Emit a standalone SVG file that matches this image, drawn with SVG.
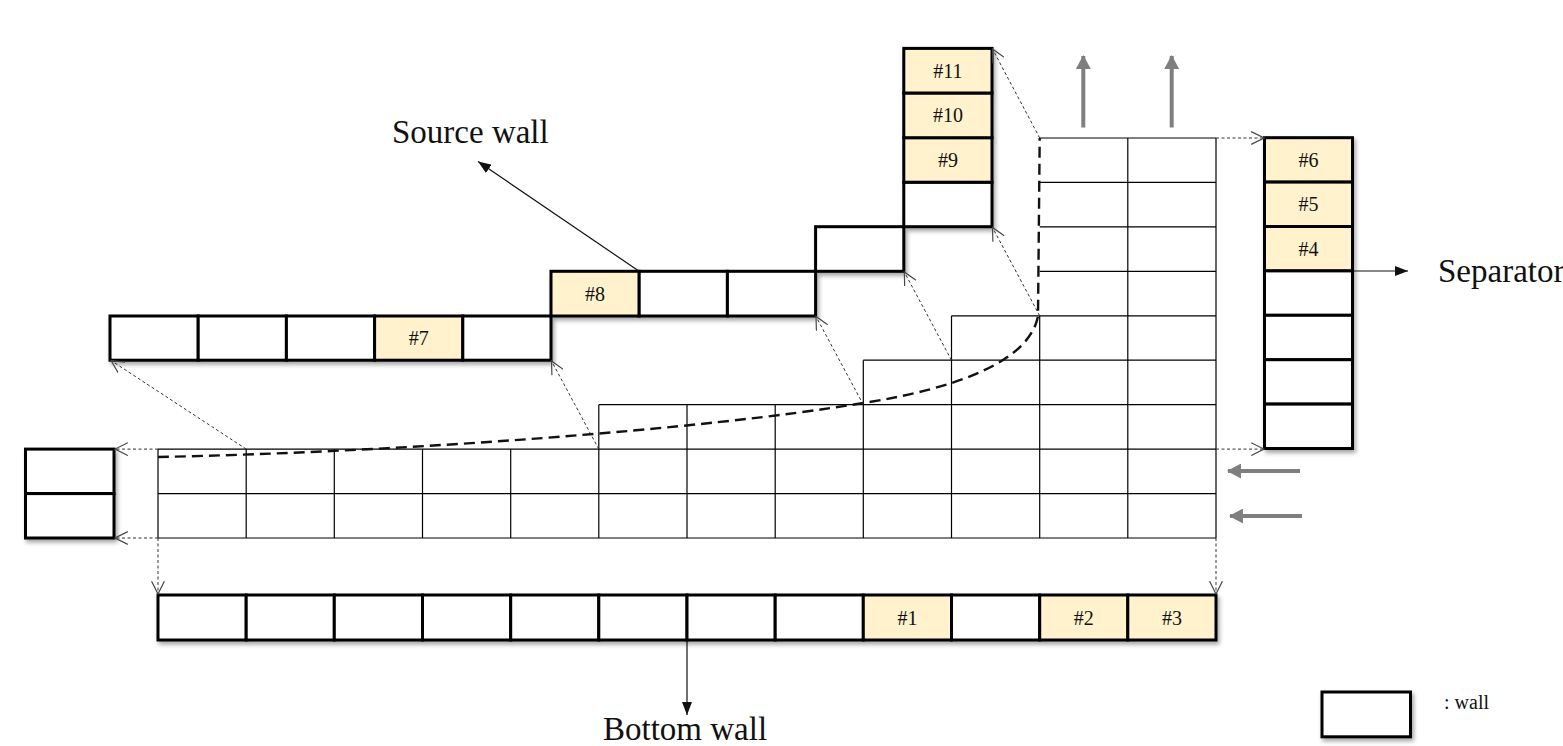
<svg xmlns="http://www.w3.org/2000/svg" width="1563" height="746" viewBox="0 0 1563 746">
  <defs>
    <style>
      .grid line { stroke: #000; stroke-width: 1.2; }
      .wall rect { fill: #fff; stroke: #000; stroke-width: 3; }
      .wall rect.hi { fill: #fff2cc; }
      .num { font-family: "Liberation Serif", "Times New Roman", serif; font-size: 20px; fill: #111; text-anchor: middle; }
      .big { font-family: "Liberation Serif", "Times New Roman", serif; font-size: 33px; fill: #111; }
      .dot { stroke: #333; stroke-width: 1; stroke-dasharray: 3 2.5; fill: none; marker-end: url(#open); }
      .ptr { stroke: #111; stroke-width: 1.2; fill: none; marker-end: url(#solid); }
      .flow { stroke: #7f7f7f; stroke-width: 4; fill: none; marker-end: url(#gray); }
    </style>
    <filter id="shadow" x="-10%" y="-10%" width="130%" height="140%">
      <feDropShadow dx="2" dy="3" stdDeviation="2.2" flood-color="#000" flood-opacity="0.35"/>
    </filter>
    <marker id="open" markerUnits="userSpaceOnUse" markerWidth="14" markerHeight="14" viewBox="0 0 12 12" refX="11" refY="6" orient="auto">
      <path d="M0,0.5 L11,6 L0,11.5" fill="none" stroke="#444" stroke-width="1"/>
    </marker>
    <marker id="solid" markerUnits="userSpaceOnUse" markerWidth="13" markerHeight="10" viewBox="0 0 13 10" refX="13" refY="5" orient="auto">
      <path d="M0,0 L13,5 L0,10 Z" fill="#111"/>
    </marker>
    <marker id="gray" markerUnits="userSpaceOnUse" markerWidth="14" markerHeight="15" viewBox="0 0 14 15" refX="13" refY="7.5" orient="auto">
      <path d="M0,0 L14,7.5 L0,15 Z" fill="#7f7f7f"/>
    </marker>
  </defs>

  <rect width="1563" height="746" fill="#fff"/>

  <!-- computational grid -->
  <g id="grid" class="grid">
    <line x1="1039.7" y1="138" x2="1216" y2="138"/>
    <line x1="1039.7" y1="182.4" x2="1216" y2="182.4"/>
    <line x1="1039.7" y1="226.9" x2="1216" y2="226.9"/>
    <line x1="1039.7" y1="271.3" x2="1216" y2="271.3"/>
    <line x1="951.5" y1="315.8" x2="1216" y2="315.8"/>
    <line x1="863.3" y1="360.2" x2="1216" y2="360.2"/>
    <line x1="598.8" y1="404.7" x2="1216" y2="404.7"/>
    <line x1="158" y1="449.1" x2="1216" y2="449.1"/>
    <line x1="158" y1="493.6" x2="1216" y2="493.6"/>
    <line x1="158" y1="538" x2="1216" y2="538"/>
    <line x1="158" y1="449.1" x2="158" y2="538"/>
    <line x1="246.2" y1="449.1" x2="246.2" y2="538"/>
    <line x1="334.3" y1="449.1" x2="334.3" y2="538"/>
    <line x1="422.5" y1="449.1" x2="422.5" y2="538"/>
    <line x1="510.7" y1="449.1" x2="510.7" y2="538"/>
    <line x1="598.8" y1="404.7" x2="598.8" y2="538"/>
    <line x1="687" y1="404.7" x2="687" y2="538"/>
    <line x1="775.2" y1="404.7" x2="775.2" y2="538"/>
    <line x1="863.3" y1="360.2" x2="863.3" y2="538"/>
    <line x1="951.5" y1="315.8" x2="951.5" y2="538"/>
    <line x1="1039.7" y1="315.8" x2="1039.7" y2="538"/>
    <line x1="1127.8" y1="138" x2="1127.8" y2="538"/>
    <line x1="1216" y1="138" x2="1216" y2="538"/>
  </g>

  <!-- boundary curve -->
  <path id="boundary" d="M158,457 C400,452 700,430 863.3,403 C960,388 1030,360 1038,316 L1039.7,138" fill="none" stroke="#111" stroke-width="2.4" stroke-dasharray="11 6"/>

  <!-- bottom wall -->
  <g id="bottom-wall" class="wall" filter="url(#shadow)">
    <rect x="158" y="595" width="88.2" height="45"/>
    <rect x="246.2" y="595" width="88.1" height="45"/>
    <rect x="334.3" y="595" width="88.2" height="45"/>
    <rect x="422.5" y="595" width="88.2" height="45"/>
    <rect x="510.7" y="595" width="88.1" height="45"/>
    <rect x="598.8" y="595" width="88.2" height="45"/>
    <rect x="687" y="595" width="88.2" height="45"/>
    <rect x="775.2" y="595" width="88.1" height="45"/>
    <rect class="hi" x="863.3" y="595" width="88.2" height="45"/>
    <rect x="951.5" y="595" width="88.2" height="45"/>
    <rect class="hi" x="1039.7" y="595" width="88.1" height="45"/>
    <rect class="hi" x="1127.8" y="595" width="88.2" height="45"/>
  </g>
  <g id="bottom-wall-labels">
    <text class="num" x="907.4" y="624.5">#1</text>
    <text class="num" x="1083.7" y="624.5">#2</text>
    <text class="num" x="1171.9" y="624.5">#3</text>
  </g>

  <!-- left wall -->
  <g id="left-wall" class="wall" filter="url(#shadow)">
    <rect x="25.5" y="449.1" width="88.5" height="44.5"/>
    <rect x="25.5" y="493.6" width="88.5" height="44.4"/>
  </g>

  <!-- source wall (stepped) -->
  <g id="source-wall" class="wall" filter="url(#shadow)">
    <rect x="110" y="316" width="88.2" height="44.2"/>
    <rect x="198.2" y="316" width="88.2" height="44.2"/>
    <rect x="286.4" y="316" width="88.2" height="44.2"/>
    <rect class="hi" x="374.6" y="316" width="88.2" height="44.2"/>
    <rect x="462.8" y="316" width="88.2" height="44.2"/>
    <rect class="hi" x="551" y="271.3" width="88.2" height="44.7"/>
    <rect x="639.2" y="271.3" width="88.2" height="44.7"/>
    <rect x="727.4" y="271.3" width="88.2" height="44.7"/>
    <rect x="815.6" y="226.7" width="88.2" height="44.6"/>
    <rect x="903.8" y="182.2" width="88.2" height="44.5"/>
    <rect class="hi" x="903.8" y="137.7" width="88.2" height="44.5"/>
    <rect class="hi" x="903.8" y="93" width="88.2" height="44.7"/>
    <rect class="hi" x="903.8" y="48.4" width="88.2" height="44.6"/>
  </g>
  <g id="source-wall-labels">
    <text class="num" x="418.7" y="345">#7</text>
    <text class="num" x="595.1" y="300.5">#8</text>
    <text class="num" x="947.9" y="167">#9</text>
    <text class="num" x="947.9" y="122.3">#10</text>
    <text class="num" x="947.9" y="77.7">#11</text>
  </g>

  <!-- separator -->
  <g id="separator" class="wall" filter="url(#shadow)">
    <rect class="hi" x="1264.5" y="137.7" width="88" height="44.4"/>
    <rect class="hi" x="1264.5" y="182.1" width="88" height="44.4"/>
    <rect class="hi" x="1264.5" y="226.5" width="88" height="44.4"/>
    <rect x="1264.5" y="270.9" width="88" height="44.4"/>
    <rect x="1264.5" y="315.3" width="88" height="44.4"/>
    <rect x="1264.5" y="359.7" width="88" height="44.4"/>
    <rect x="1264.5" y="404.1" width="88" height="44.4"/>
  </g>
  <g id="separator-labels">
    <text class="num" x="1308.5" y="167">#6</text>
    <text class="num" x="1308.5" y="211.4">#5</text>
    <text class="num" x="1308.5" y="255.8">#4</text>
  </g>

  <!-- legend -->
  <g id="legend">
    <g class="wall" filter="url(#shadow)">
      <rect x="1322" y="692" width="88.5" height="44.8"/>
    </g>
    <text x="1444" y="709" font-family="Liberation Serif, Times New Roman, serif" font-size="20" fill="#111">: wall</text>
  </g>

  <!-- connectors -->
  <g id="connectors">
    <!-- grid edges mapped onto wall cells -->
    <line class="dot" x1="158" y1="449.1" x2="115" y2="449.1"/>
    <line class="dot" x1="158" y1="538" x2="115" y2="538"/>
    <line class="dot" x1="158" y1="538" x2="158" y2="594"/>
    <line class="dot" x1="1216" y1="538" x2="1216" y2="594"/>
    <line class="dot" x1="1216" y1="449.1" x2="1264" y2="449.1"/>
    <line class="dot" x1="1216" y1="138" x2="1264" y2="138"/>
    <line class="dot" x1="246.2" y1="449.1" x2="111" y2="360.5"/>
    <line class="dot" x1="598.8" y1="449.1" x2="551.5" y2="361"/>
    <line class="dot" x1="863.3" y1="404.7" x2="816" y2="316.5"/>
    <line class="dot" x1="951.5" y1="360.2" x2="904.3" y2="272"/>
    <line class="dot" x1="1039.7" y1="315.8" x2="992.5" y2="227.5"/>
    <line class="dot" x1="1039.7" y1="138" x2="992.5" y2="49"/>
    <!-- label pointers -->
    <line class="ptr" x1="639.2" y1="271.3" x2="478" y2="161.5"/>
    <line class="ptr" x1="687" y1="640" x2="687" y2="715"/>
    <line class="ptr" x1="1352.5" y1="271" x2="1408" y2="271"/>
    <!-- flow directions -->
    <line class="flow" x1="1083.3" y1="127.5" x2="1083.3" y2="56"/>
    <line class="flow" x1="1171.7" y1="127.5" x2="1171.7" y2="56"/>
    <line class="flow" x1="1300" y1="471" x2="1228" y2="471"/>
    <line class="flow" x1="1302" y1="516" x2="1230" y2="516"/>
  </g>

  <!-- titles -->
  <g id="titles">
    <text class="big" x="392" y="143">Source wall</text>
    <text class="big" x="603" y="740">Bottom wall</text>
    <text class="big" x="1438" y="282">Separator</text>
  </g>
</svg>
